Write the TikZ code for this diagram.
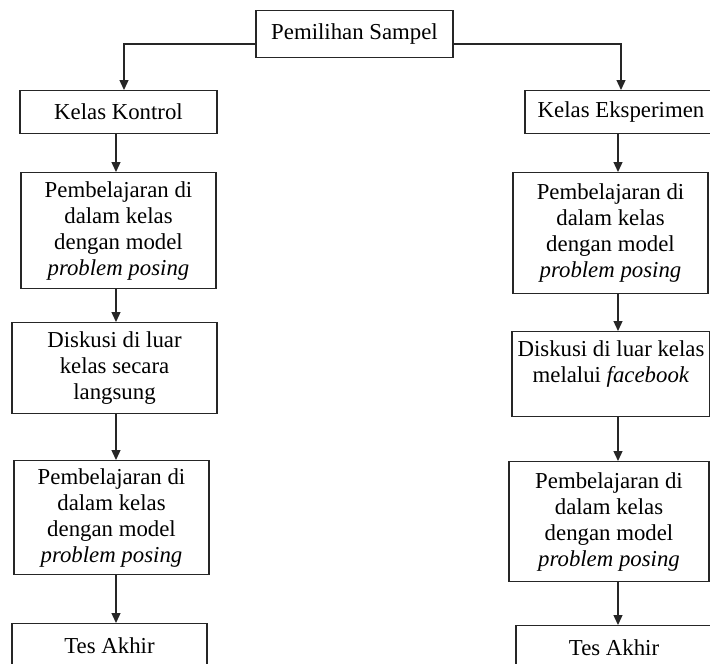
\documentclass[tikz,border=0pt]{standalone}
\usepackage{fontspec}
\setmainfont{Liberation Serif}
\usetikzlibrary{arrows.meta}
\begin{document}
\begin{tikzpicture}[x=1pt,y=1pt,
 box/.style={draw=black!85, line width=1.3pt, align=center, inner sep=0pt, font=\fontsize{22.8}{26}\selectfont, anchor=north},
 arr/.style={draw=black!85, line width=1.3pt, -{Triangle[length=10pt,width=9pt]}},
 ln/.style={draw=black!85, line width=1.3pt}]
\useasboundingbox (0,0) rectangle (710,-664);
\fill[white] (0,0) rectangle (710,-664);
% top
\node[box, minimum width=197pt, minimum height=47pt] (top) at (354.5,-10) {Pemilihan Sampel};
% left column
\node[box, minimum width=197pt, minimum height=43pt] (kk) at (118.5,-90) {Kelas Kontrol};
\node[box, minimum width=195pt, minimum height=116pt] (l2) at (118.5,-172) {Pembelajaran di\\dalam kelas\\dengan model\\\textit{problem posing}};
\node[box, minimum width=205pt, minimum height=91pt] (l3) at (114.5,-322) {Diskusi di luar\\kelas secara\\langsung};
\node[box, minimum width=195pt, minimum height=114pt] (l4) at (111.5,-460) {Pembelajaran di\\dalam kelas\\dengan model\\\textit{problem posing}};
\node[box, minimum width=195pt, minimum height=44pt] (l5) at (109.5,-623) {Tes Akhir};
% right column
\node[box, minimum width=192pt, minimum height=43pt] (ke) at (621,-90) {Kelas Eksperimen};
\node[box, minimum width=195pt, minimum height=121pt] (r2) at (610.5,-172) {Pembelajaran di\\dalam kelas\\dengan model\\\textit{problem posing}};
\node[box, minimum width=198pt, minimum height=85pt] (r3) at (611,-331) {Diskusi di luar kelas\\melalui \textit{facebook}\\\mbox{}};
\node[box, minimum width=200pt, minimum height=120pt] (r4) at (609,-461) {Pembelajaran di\\dalam kelas\\dengan model\\\textit{problem posing}};
\node[box, minimum width=196pt, minimum height=44pt] (r5) at (614,-625) {Tes Akhir};
% connectors
\coordinate (tl) at (124,-44);
\coordinate (tr) at (621,-44);
\draw[arr] (top.west |- tl) -- (tl) -- (tl |- kk.north);
\draw[arr] (top.east |- tr) -- (tr) -- (tr |- ke.north);
\coordinate (lx) at (116,0);
\coordinate (rx) at (618,0);
\draw[arr] (lx |- kk.south) -- (lx |- l2.north);
\draw[arr] (lx |- l2.south) -- (lx |- l3.north);
\draw[arr] (lx |- l3.south) -- (lx |- l4.north);
\draw[arr] (lx |- l4.south) -- (lx |- l5.north);
\draw[arr] (rx |- ke.south) -- (rx |- r2.north);
\draw[arr] (rx |- r2.south) -- (rx |- r3.north);
\draw[arr] (rx |- r3.south) -- (rx |- r4.north);
\draw[arr] (rx |- r4.south) -- (rx |- r5.north);
\end{tikzpicture}
\end{document}
